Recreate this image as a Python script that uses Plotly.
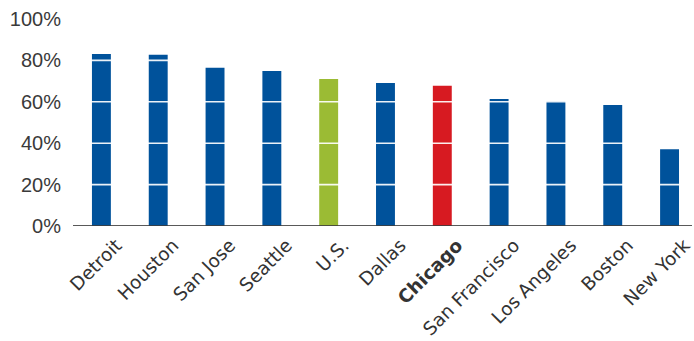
import plotly.graph_objects as go

categories = ["Detroit", "Houston", "San Jose", "Seattle", "U.S.", "Dallas",
              "Chicago", "San Francisco", "Los Angeles", "Boston", "New York"]
values = [83.1, 82.7, 76.4, 74.9, 71.0, 69.1, 67.7, 61.4, 60.4, 58.4, 37.1]
highlight = {"U.S.": "#9BBB34", "Chicago": "#D71A21"}
base_color = "#00529B"
tick_values = [0, 20, 40, 60, 80, 100]
tick_labels = ["0%", "20%", "40%", "60%", "80%", "100%"]
grid_values = [20, 40, 60, 80]

colors = [highlight.get(c, base_color) for c in categories]
tick_text = [f"<b>{c}</b>" if c == "Chicago" else c for c in categories]

fig = go.Figure()
fig.add_trace(go.Bar(x=categories, y=values, marker=dict(color=colors, line=dict(width=0)),
                     width=0.333))

for g in grid_values:
    fig.add_shape(type="line", xref="paper", yref="y", x0=0, x1=1, y0=g, y1=g,
                  line=dict(color="rgba(255,255,255,0.92)", width=1.6), layer="above")
fig.add_shape(type="line", xref="paper", yref="y", x0=0, x1=1, y0=0, y1=0,
              line=dict(color="rgba(60,60,60,0.85)", width=2), layer="above")

fig.update_layout(
    width=694, height=341,
    margin=dict(l=73, r=0, t=19, b=115),
    plot_bgcolor="white", paper_bgcolor="white",
    showlegend=False,
    xaxis=dict(
        tickmode="array", tickvals=categories, ticktext=tick_text,
        tickangle=-45, range=[-0.5, 10.395],
        tickfont=dict(family="DejaVu Sans", size=18.5, color="#333333"),
        showgrid=False, showline=False, zeroline=False, ticks="",
        ticklabelshift=15, ticklabelstandoff=4,
    ),
    yaxis=dict(
        range=[0, 100], tickmode="array", tickvals=tick_values, ticktext=tick_labels,
        tickfont=dict(family="Liberation Sans", size=20, color="#3a3a3a"),
        showgrid=False, zeroline=False, showline=False, ticks="",
        ticklabelstandoff=11,
    ),
)

fig.write_html("out.html")
